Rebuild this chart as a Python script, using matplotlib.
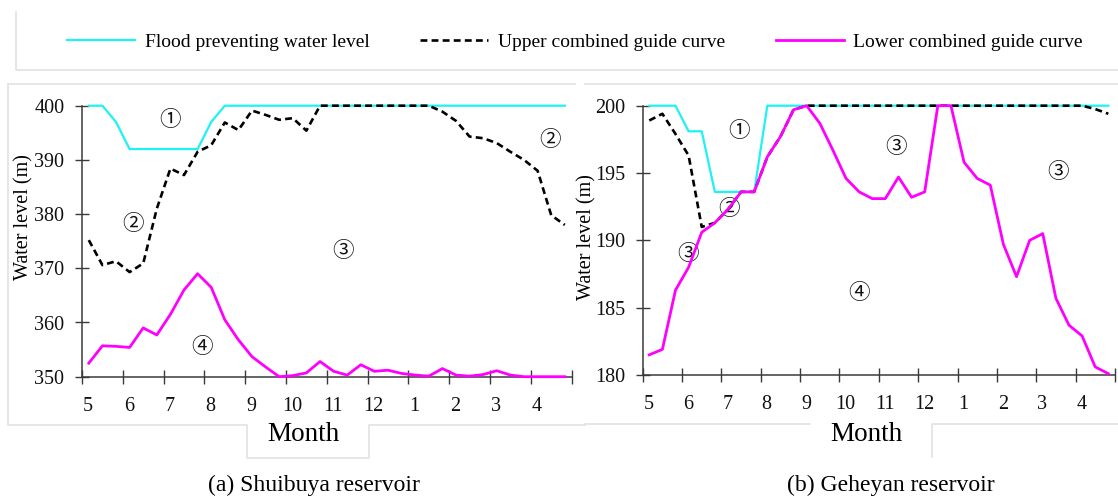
import matplotlib
matplotlib.use("Agg")
import matplotlib.pyplot as plt
import matplotlib.transforms as mtransforms
from matplotlib.lines import Line2D
import numpy as np

# ---------------- data ----------------
months = ["5", "6", "7", "8", "9", "10", "11", "12", "1", "2", "3", "4"]
n_periods = 36  # ten-day periods in a year
period_pos = [(i + 0.5) / 3 for i in range(n_periods)]

# (a) Shuibuya reservoir
shui_flood = [400, 400, 397, 392, 392, 392, 392, 392, 392, 397, 400, 400,
              400, 400, 400, 400, 400, 400, 400, 400, 400, 400, 400, 400,
              400, 400, 400, 400, 400, 400, 400, 400, 400, 400, 400, 400]
shui_upper = [375.2, 370.6, 371.3, 369.3, 370.9, 381.0, 388.4, 387.2, 391.5, 392.7, 396.9, 395.5,
              399.1, 398.3, 397.4, 397.7, 395.4, 400, 400, 400, 400, 400, 400, 400,
              400, 400, 398.9, 397.2, 394.3, 394.0, 393.1, 391.5, 390.0, 388.0, 379.8, 378.0]
shui_lower = [352.5, 355.7, 355.6, 355.4, 359.0, 357.7, 361.5, 366.0, 369.0, 366.5, 360.5, 356.8,
              353.7, 351.8, 350.0, 350.2, 350.7, 352.8, 351.0, 350.3, 352.2, 351.0, 351.2, 350.6,
              350.3, 350.1, 351.5, 350.3, 350.1, 350.4, 351.1, 350.3, 350.0, 350.0, 350.0, 350.0]

# (b) Geheyan reservoir
ghy_flood = [200, 200, 200, 198.1, 198.1, 193.6, 193.6, 193.6, 193.6, 200, 200, 200,
             200, 200, 200, 200, 200, 200, 200, 200, 200, 200, 200, 200,
             200, 200, 200, 200, 200, 200, 200, 200, 200, 200, 200, 200]
ghy_upper = [198.9, 199.4, 197.9, 196.3, 191.0, 191.3, 192.3, 193.6, 193.6, 196.2, 197.7, 199.7,
             200, 200, 200, 200, 200, 200, 200, 200, 200, 200, 200, 200,
             200, 200, 200, 200, 200, 200, 200, 200, 200, 200, 199.75, 199.4]
ghy_lower = [181.5, 181.9, 186.3, 188.0, 190.6, 191.3, 192.3, 193.6, 193.6, 196.2, 197.7, 199.7,
             200.0, 198.7, 196.7, 194.6, 193.6, 193.1, 193.1, 194.7, 193.2, 193.6, 200.0, 200.0,
             195.8, 194.6, 194.1, 189.7, 187.3, 190.0, 190.5, 185.7, 183.7, 182.9, 180.6, 180.1]

shui_yticks = [350, 360, 370, 380, 390, 400]
ghy_yticks = [180, 185, 190, 195, 200]

shui_regions = [("\u2460", 2.16, 397.4), ("\u2461", 1.24, 378.1), ("\u2462", 6.40, 373.1),
                ("\u2461", 11.47, 393.7), ("\u2463", 2.94, 355.5)]
ghy_regions = [("\u2460", 2.45, 198.1), ("\u2461", 2.20, 192.3), ("\u2462", 1.15, 189.0),
               ("\u2462", 6.44, 196.9), ("\u2462", 10.55, 195.1), ("\u2463", 5.50, 186.1)]

legend_labels = ["Flood preventing water level", "Upper combined guide curve",
                 "Lower combined guide curve"]
captions = ["(a) Shuibuya reservoir", "(b) Geheyan reservoir"]

# ---------------- style ----------------
W, H = 1118, 500
plt.rcParams["font.family"] = ["Liberation Serif", "DejaVu Serif"]
CYAN = "#1ef2f2"
MAG = "#ff00ff"
AXC = "#3a3a3a"
BORDER = "#e2e2e2"

fig = plt.figure(figsize=(W / 100, H / 100), dpi=100)


def ax_rect(x0, x1, ytop, ybot):
    return [x0 / W, 1 - ybot / H, (x1 - x0) / W, (ybot - ytop) / H]


axL = fig.add_axes(ax_rect(82, 571.6, 105.7, 376.7))
axR = fig.add_axes(ax_rect(642.7, 1114.9, 105.7, 375.0))


def style_axis(ax, ylim, yticks):
    ax.set_xlim(0, 12)
    ax.set_ylim(*ylim)
    for s in ["top", "right"]:
        ax.spines[s].set_visible(False)
    for s in ["left", "bottom"]:
        ax.spines[s].set_color(AXC)
        ax.spines[s].set_linewidth(1.1)
    ax.set_xticks(range(13))
    ax.set_xticklabels(months + [""])
    ax.set_yticks(yticks)
    ax.tick_params(axis="both", direction="inout", length=9.5, width=1.0, color=AXC,
                   labelsize=14.5, labelcolor="#111111")
    ax.tick_params(axis="x", pad=10)
    ax.tick_params(axis="y", pad=8)
    off = mtransforms.ScaledTranslation(6 / 100, 0, fig.dpi_scale_trans)
    for lab in ax.get_xticklabels():
        lab.set_transform(lab.get_transform() + off)
    ax.set_facecolor("none")


lines = []
for ax, flood, upper, lower, ylim, yticks, regions in [
        (axL, shui_flood, shui_upper, shui_lower, (350, 400), shui_yticks, shui_regions),
        (axR, ghy_flood, ghy_upper, ghy_lower, (180, 200), ghy_yticks, ghy_regions)]:
    style_axis(ax, ylim, yticks)
    l1, = ax.plot(period_pos, flood, color=CYAN, lw=1.6, clip_on=False, zorder=3)
    l2, = ax.plot(period_pos, upper, color="black", lw=1.9, ls=(0, (2.6, 1.6)),
                  clip_on=False, zorder=4)
    l3, = ax.plot(period_pos, lower, color=MAG, lw=2.0, clip_on=False, zorder=5)
    lines = [l1, l2, l3]
    for t, x, y in regions:
        ax.text(x, y, t, ha="center", va="center", fontsize=15.5,
                family=["Noto Sans CJK SC", "DejaVu Sans"], color="#111111")
    ax.set_ylabel("Water level (m)", fontsize=14.5)
    ax.set_xlabel("Month", fontsize=19.5)

axL.yaxis.set_label_coords(-0.099, 0.59)
axR.yaxis.set_label_coords(-0.0985, 0.514)
axL.xaxis.set_label_coords(0.4524, -0.168)
axR.xaxis.set_label_coords(0.4729, -0.176)

fig.legend(lines, legend_labels, loc="center", bbox_to_anchor=(575 / W, 1 - 42 / H),
           ncol=3, frameon=False, fontsize=14, handlelength=3.5, handletextpad=0.5,
           columnspacing=2.6)

fig.text(314 / W, 1 - 485 / H, captions[0], ha="center", va="center", fontsize=17)
fig.text(891 / W, 1 - 485 / H, captions[1], ha="center", va="center", fontsize=17)


# decorative light-gray frame lines (from the source screenshot)
def border(xs, ys):
    fig.add_artist(Line2D([x / W for x in xs], [1 - y / H for y in ys],
                          transform=fig.transFigure, color=BORDER, lw=1.2))


border([16, 16, 1118], [12, 70, 70])
border([8, 575], [84.3, 84.3])
border([585, 1118], [84.3, 84.3])
border([8, 8, 247, 247, 369, 369, 585], [84.3, 425, 425, 458, 458, 425, 425])
border([585, 810], [424, 424])
border([931.7, 931.7, 1118], [457, 424, 424])

fig.savefig("out.png", dpi=100)
